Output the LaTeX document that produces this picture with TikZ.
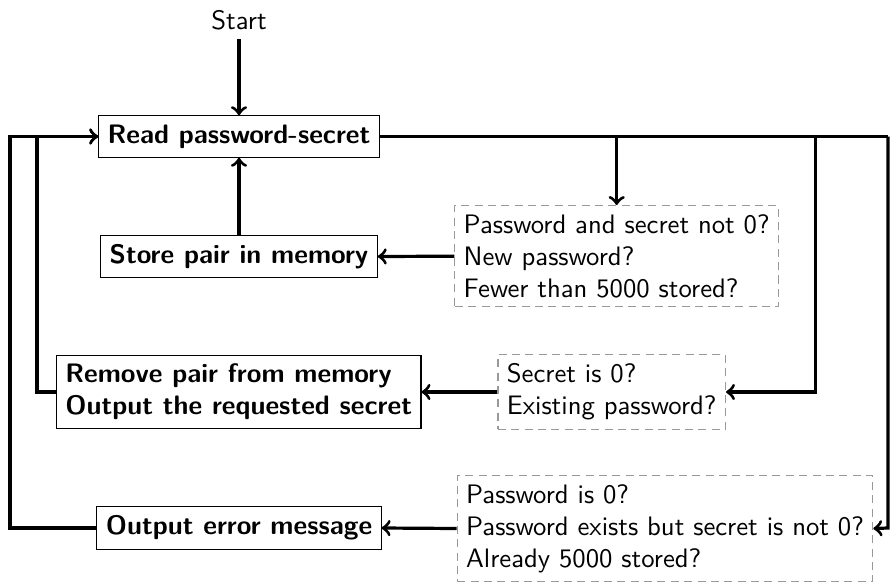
\documentclass[tikz,border=0pt]{standalone}
\usetikzlibrary{calc}
\begin{document}
\begin{tikzpicture}[x=0.3745pt, y=-0.3745pt,
  every node/.style={font=\sffamily},
  action/.style={draw=black, font=\sffamily\bfseries, align=left},
  check/.style={draw=black!40, dash pattern=on 3pt off 2pt, align=left},
  flow/.style={->, very thick},
  link/.style={very thick}]
\useasboundingbox (0,0) rectangle (891,581);

% labels and boxes
\node[anchor=base] (start) at (239,29.3) {Start};
\node[action] (read)   at (239,136.5) {Read password-secret};
\node[action] (store)  at (239,256.5) {Store pair in memory};
\node[action] (remove) at (238.7,392) {Remove pair from memory\\Output the requested secret};
\node[action] (err)    at (239,528)   {Output error message};

\node[check] (q1) at (616.7,256.2) {Password and secret not 0?\\New password?\\Fewer than 5000 stored?};
\node[check] (q2) at (611.7,392)   {Secret is 0?\\Existing password?};
\node[check] (q3) at (665,528.5)   {Password is 0?\\Password exists but secret is not 0?\\Already 5000 stored?};

% turning points of the loops
\coordinate (c2) at (815.5,392);
\coordinate (c3) at (888,528);
\coordinate (l1) at (37,392);
\coordinate (l0) at (10,528);

% main flow
\draw[flow] (start) -- (read);
\draw[flow] (store) -- (read);
\draw[link] (read.east) -- (read.east -| c3);
\draw[flow] (read.east -| q1.north) -- (q1.north);
\draw[flow] (read.east -| c2) -- (c2) -- (q2.east);
\draw[flow] (read.east -| c3) -- (c3) -- (q3.east);

% results of the checks
\draw[flow] (q1.west) -- (store.east);
\draw[flow] (q2.west) -- (remove.east);
\draw[flow] (q3.west) -- (err.east);

% back to reading
\draw[flow] (remove.west) -- (l1) -- (l1 |- read.west) -- (read.west);
\draw[flow] (err.west) -- (l0) -- (l0 |- read.west) -- (read.west);
\end{tikzpicture}
\end{document}
